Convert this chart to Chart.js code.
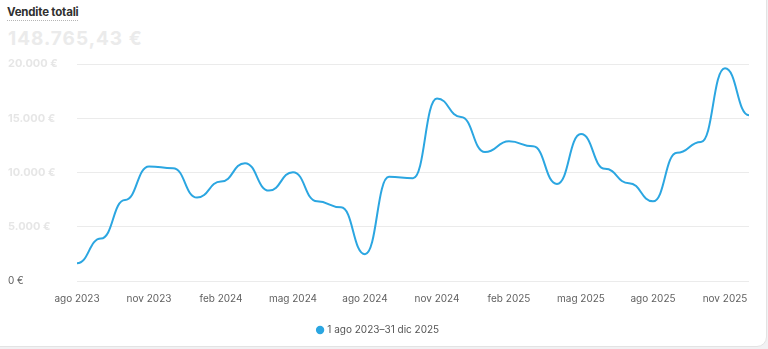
<!DOCTYPE html>
<html lang="it">
<head>
<meta charset="utf-8">
<script src="https://cdn.jsdelivr.net/npm/chart.js@4/dist/chart.umd.min.js"></script>
<style>
  html, body { margin: 0; padding: 0; background: #f1f1f3; }
  body { width: 768px; height: 349px; position: relative; overflow: hidden; font-family: Inter, sans-serif; }
  .card { position: absolute; left: -10px; top: -10px; width: 775px; height: 355px; background: #fff;
          border: 1px solid #e3e3e3; border-radius: 10px; }
  .title { position: absolute; left: 7px; top: 6px; font: 700 11.5px Inter, sans-serif; color: #303030;
           border-bottom: 1px dotted #b5b5b5; line-height: 13px; padding-bottom: 1px; letter-spacing: -0.2px; }
  .total { position: absolute; left: 8px; top: 27px; font: 700 19px Inter, sans-serif; color: #ebebeb;
           letter-spacing: 1px; }
  #wrap { position: absolute; left: 0; top: 0; width: 766px; height: 346px; }
</style>
</head>
<body>
<div class="card"></div>
<div class="title">Vendite totali</div>
<div class="total">148.765,43 €</div>
<div id="wrap"><canvas id="chart"></canvas></div>
<script>
// mesi: ago 2023 – dic 2025
const labels = [
  'ago 2023', 'set 2023', 'ott 2023', 'nov 2023', 'dic 2023', 'gen 2024',
  'feb 2024', 'mar 2024', 'apr 2024', 'mag 2024', 'giu 2024', 'lug 2024',
  'ago 2024', 'set 2024', 'ott 2024', 'nov 2024', 'dic 2024', 'gen 2025',
  'feb 2025', 'mar 2025', 'apr 2025', 'mag 2025', 'giu 2025', 'lug 2025',
  'ago 2025', 'set 2025', 'ott 2025', 'nov 2025', 'dic 2025',
];
const sales = [
  1640, 3920, 7470, 10560, 10400, 7690,
  9170, 10860, 8330, 10030, 7340, 6790,
  2470, 9600, 9470, 16820, 15120, 11880,
  12870, 12410, 8950, 13540, 10340, 9010,
  7340, 11820, 12810, 19600, 15280,
];
const seriesLabel = '1 ago 2023–31 dic 2025';
const yTicks = [0, 5000, 10000, 15000, 20000];

const euro = (v) => new Intl.NumberFormat('it-IT').format(v) + ' €';

// tangenti orizzontali su ogni punto (curva "a gradini" morbida)
const bumpX = {
  id: 'bumpX',
  beforeDatasetsDraw(chart) {
    chart.getSortedVisibleDatasetMetas().forEach((meta) => {
      if (!meta.dataset) return;
      meta.dataset.updateControlPoints(chart.chartArea, 'x');
      const pts = meta.data;
      pts.forEach((p, i) => {
        const prev = pts[i - 1];
        const next = pts[i + 1];
        p.cp1x = prev ? (prev.x + p.x) / 2 : p.x;
        p.cp1y = p.y;
        p.cp2x = next ? (p.x + next.x) / 2 : p.x;
        p.cp2y = p.y;
      });
    });
  },
};

Chart.defaults.font.family = 'Inter, sans-serif';
Chart.defaults.font.size = 10;
Chart.defaults.color = '#616161';

new Chart(document.getElementById('chart'), {
  type: 'line',
  data: {
    labels,
    datasets: [{
      label: seriesLabel,
      data: sales,
      borderColor: '#2ba6e1',
      backgroundColor: '#2ba6e1',
      borderWidth: 2,
      tension: 0.4,
      pointRadius: 0,
      fill: false,
    }],
  },
  options: {
    responsive: true,
    maintainAspectRatio: false,
    animation: false,
    layout: { padding: { top: 64, left: 8, right: 17, bottom: 1 } },
    scales: {
      x: {
        grid: { display: false, drawTicks: false },
        border: { display: false },
        ticks: {
          autoSkip: false,
          maxRotation: 0,
          padding: 12,
          color: '#616161',
          callback: (v, i) => (i % 3 === 0 ? labels[i] : ''),
        },
        afterFit: (s) => { s.height = 34; },
      },
      y: {
        min: 0,
        max: 20000,
        afterBuildTicks: (s) => { s.ticks = yTicks.map((value) => ({ value })); },
        grid: { color: '#ebebeb', drawTicks: false },
        border: { display: false },
        ticks: {
          crossAlign: 'far',
          padding: 8,
          // importi oscurati nell'originale: solo lo zero è leggibile
          color: (c) => (c.tick.value === 0 ? '#616161' : '#e6e6e6'),
          font: (c) => (c.tick && c.tick.value !== 0 ? { size: 11, weight: 'bold' } : { size: 10 }),
          callback: (v) => euro(v),
        },
        afterFit: (s) => { s.width = 69; },
      },
    },
    plugins: {
      legend: {
        position: 'bottom',
        labels: {
          usePointStyle: true,
          pointStyle: 'circle',
          boxWidth: 4.5,
          boxHeight: 4.5,
          padding: 10,
          color: '#555',
          font: { size: 10 },
        },
      },
      tooltip: { enabled: false },
    },
  },
  plugins: [bumpX],
});
</script>
</body>
</html>
